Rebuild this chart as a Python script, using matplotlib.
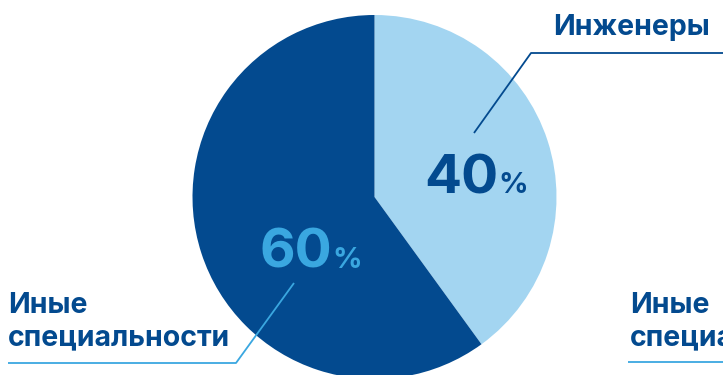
import matplotlib
matplotlib.use('Agg')
import matplotlib.pyplot as plt

# data
labels = ['Инженеры', 'Иные', 'специальности']
shares = [40, 60]
colors = ['#a3d5f1', '#034a8f']
pct_colors = ['#034a8f', '#3aa7e0']

plt.rcParams['font.family'] = ['Inter', 'DejaVu Sans']

W, H = 723, 375
fig = plt.figure(figsize=(W/100, H/100), dpi=100)
ax = fig.add_axes([0, 0, 1, 1])

cx, cy, r = 374.5, 197, 182
# y axis inverted -> counterclock=True draws clockwise on screen
ax.pie(shares, colors=colors, startangle=-90, counterclock=True,
       center=(cx, cy), radius=r, frame=True,
       wedgeprops=dict(linewidth=0))
ax.set_xlim(0, W)
ax.set_ylim(H, 0)
ax.set_aspect('auto')
ax.axis('off')

# percentages
def pct(x, y, val, col):
    t = ax.text(x, y, str(val), color=col, fontsize=39.5, fontweight='bold',
                ha='left', va='baseline')
    fig.canvas.draw()
    bb = t.get_window_extent().transformed(ax.transData.inverted())
    ax.text(bb.x1 + 0.5, y, '%', color=col, fontsize=21, fontweight='bold',
            ha='left', va='baseline')

pct(424, 193, shares[0], pct_colors[0])
pct(259, 268, shares[1], pct_colors[1])

lab = dict(color='#034a8f', fontsize=20.5, fontweight='bold', ha='left', va='baseline')

# Инженеры label + leader
ax.plot([474, 531, W], [133, 53, 53], color='#034a8f', lw=1.3, solid_capstyle='butt')
ax.text(553, 35, labels[0], **lab)

# Иные специальности (left)
ax.plot([294, 236, 8], [283, 363, 363], color='#3aa7e0', lw=1.3, solid_capstyle='butt')
ax.text(8, 313, labels[1], **lab)
ax.text(8, 345, labels[2], **lab)

# Иные специальности (right, cut off by the edge as in the source)
ax.plot([628, W], [362, 362], color='#3aa7e0', lw=1.3, solid_capstyle='butt')
ax.text(630, 313, labels[1], **lab)
ax.text(630, 345, labels[2], **lab)

fig.savefig('out.png', dpi=100)
